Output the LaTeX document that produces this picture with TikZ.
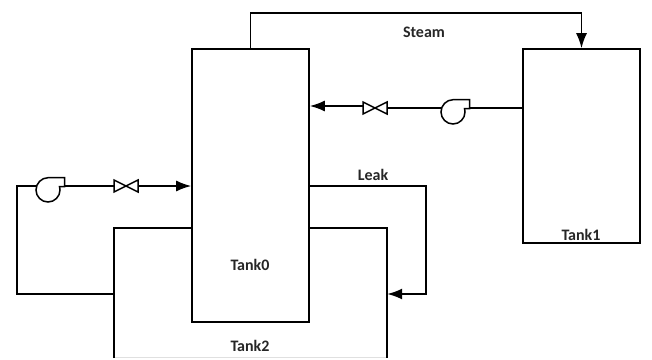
\documentclass[tikz,border=0pt]{standalone}
\usepackage{fontspec}
\setmainfont{Carlito}
\usetikzlibrary{arrows.meta}
\tikzset{
  line/.style={draw=black,line width=1.6pt},
  flow/.style={line,-{Latex[length=15pt,width=11pt]}},
  tankbox/.style={line,fill=white,rectangle,inner sep=0pt,minimum width=117pt},
  lab/.style={font=\fontsize{16}{18}\selectfont\bfseries,inner sep=0pt,text=black!85},
  anchorbox/.style={inner sep=0pt,minimum width=#1,minimum height=12pt},
  pics/valve/.style={code={
    \draw[line width=1.5pt,fill=white] (-12,-6) -- (12,6) -- (12,-6) -- (-12,6) -- cycle;
  }},
  pics/pump/.style={code={
    \draw[line width=1.5pt,fill=white] (0,-12.3) -- (16.5,-12.3) -- (16.5,-3.5) -- (11.5,-3.5)
      .. controls (11.9,-2.4) and (12,-1.2) .. (12,0)
      .. controls (12,6.6) and (6.6,12) .. (0,12)
      .. controls (-6.6,12) and (-12,6.6) .. (-12,0)
      .. controls (-12,-6.6) and (-6.6,-12.3) .. (0,-12.3) -- cycle;
  }}
}
\begin{document}
\begin{tikzpicture}[x=1pt,y=-1pt]
\useasboundingbox (0,0) rectangle (652,359);
% Tank2 (open at the cropped bottom edge)
\node[inner sep=0pt,minimum width=273pt,minimum height=130pt] (tank2) at (250.5,293) {};
\draw[black!12,line width=1pt] (114,357.5) -- (387,357.5);
\draw[line] (tank2.south west) -- (tank2.north west) -- (tank2.north east) -- (tank2.south east);
% Tanks
\node[tankbox,minimum height=273pt] (tank0) at (250.5,185.5) {};
\node[tankbox,minimum height=194pt] (tank1) at (581.5,146) {};
% Labels
\node[lab] (t0) at (250,265) {Tank0};
\node[lab] (t1) at (581,235) {Tank1};
\node[lab] (t2) at (250,345.5) {Tank2};
\node[lab] (steam) at (424,32) {Steam};
\node[lab] (leak) at (373,175) {Leak};
% Equipment locations
\node[anchorbox=24pt] (valveL) at (126,186) {};
\node[anchorbox=24pt] (valveR) at (375,108) {};
\node[inner sep=0pt,minimum size=0pt] (pumpL) at (48,190) {};
\node[inner sep=0pt,minimum size=0pt] (pumpR) at (453,112) {};
\coordinate (pumpLin) at (36,186);
\coordinate (pumpLout) at (64.5,186);
\coordinate (pumpRin) at (441,108);
\coordinate (pumpRout) at (469.5,108);
% Connectors
\coordinate (steamstart) at (tank0.north);
\coordinate (steamend) at (tank1.north);
\draw[flow] (steamstart) -- (250.5,13) -| (steamend);
\draw[line] (tank1.west |- pumpRout) -- (pumpRout);
\draw[line] (pumpRin) -- (valveR.east);
\draw[flow] (valveR.west) ++(0,-2) -- (tank0.east |- 0,106);
\draw[line] (tank2.west |- 0,294) -- (17,294) -- (17,186) -- (pumpLin);
\draw[line] (pumpLout) -- (valveL.west);
\draw[flow] (valveL.east) -- (tank0.west |- valveL.east);
\coordinate (leakstart) at (tank0.east |- 0,186);
\draw[flow] (leakstart) -- (426,186) -- (426,294) -- (tank2.east |- 0,294);
% Equipment
\pic at (valveL) {valve};
\pic at (valveR) {valve};
\pic at (pumpL) {pump};
\pic at (pumpR) {pump};
\end{tikzpicture}
\end{document}
